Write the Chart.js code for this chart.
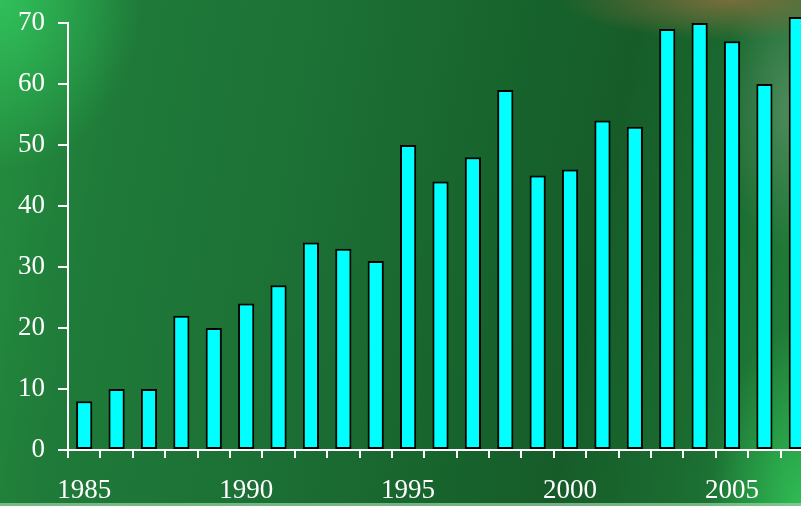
<!DOCTYPE html>
<html>
<head>
<meta charset="utf-8">
<script src="https://cdn.jsdelivr.net/npm/chart.js@4"></script>
<style>
  html, body { margin: 0; padding: 0; width: 801px; height: 506px; overflow: hidden; }
  body {
    position: relative;
    background:
      radial-gradient(ellipse 170px 40px at 730px 0px, rgba(130,110,60,0.9), rgba(130,110,60,0) 100%),
      radial-gradient(ellipse 70px 140px at 790px 110px, rgba(125,160,130,0.5), rgba(125,160,130,0) 100%),
      radial-gradient(ellipse 90px 180px at 801px 506px, rgba(48,190,85,0.95), rgba(48,190,85,0) 100%),
      radial-gradient(ellipse 140px 170px at 0px 0px, rgba(50,200,95,0.85), rgba(50,200,95,0) 100%),
      linear-gradient(100deg, #25903f 0%, #1f7b39 14%, #1c7035 38%, #17622c 62%, #165c29 72%, #1b6c31 86%, #22843b 100%);
  }
  #wrap { position: absolute; left: 0; top: 0; width: 820px; height: 506px; }
  #strip { position: absolute; left: 0; bottom: 0; width: 801px; height: 3px; background: rgba(150,205,160,0.75); }
</style>
</head>
<body>
<div id="wrap"><canvas id="c" width="820" height="506"></canvas></div>
<div id="strip"></div>
<script>
// Yearly counts, 1985–2007
const years = ['1985','1986','1987','1988','1989','1990','1991','1992','1993','1994','1995','1996',
               '1997','1998','1999','2000','2001','2002','2003','2004','2005','2006','2007'];
const counts = [8, 10, 10, 22, 20, 24, 27, 34, 33, 31, 50, 44, 48, 59, 45, 46, 54, 53, 69, 70, 67, 60, 71];
const labelledYears = ['1985', '1990', '1995', '2000', '2005'];
const yTicks = [0, 10, 20, 30, 40, 50, 60, 70];

const tickFont = { family: '"Liberation Serif", "Times New Roman", serif', size: 27 };

new Chart(document.getElementById('c'), {
  type: 'bar',
  data: {
    labels: years,
    datasets: [{
      data: counts,
      backgroundColor: '#00ffff',
      borderColor: '#000000',
      borderWidth: 2,
      borderSkipped: false,
      barPercentage: 0.5,
      categoryPercentage: 1,
      clip: false
    }]
  },
  options: {
    responsive: false,
    animation: false,
    layout: { padding: { top: 23, right: 7, left: 0, bottom: 0 } },
    plugins: { legend: { display: false }, tooltip: { enabled: false } },
    scales: {
      x: {
        type: 'category',
        offset: true,
        grid: { offset: true, drawOnChartArea: false, drawTicks: true, tickLength: 8, color: '#ffffff', lineWidth: 2 },
        border: { display: true, color: '#ffffff', width: 2 },
        ticks: {
          autoSkip: false,
          maxRotation: 0,
          minRotation: 0,
          padding: 17,
          color: '#ffffff',
          font: tickFont,
          callback: function (value) {
            const y = this.getLabelForValue(value);
            return labelledYears.includes(y) ? y : '';
          }
        },
        afterFit: (s) => { s.height = 56; s.paddingLeft = 0; s.paddingRight = 0; }
      },
      y: {
        min: yTicks[0],
        max: yTicks[yTicks.length - 1],
        afterBuildTicks: (s) => { s.ticks = yTicks.map(v => ({ value: v })); },
        grid: { drawOnChartArea: false, drawTicks: true, tickLength: 10, color: '#ffffff', lineWidth: 2 },
        border: { display: true, color: '#ffffff', width: 2 },
        ticks: { padding: 13, color: '#ffffff', font: tickFont },
        afterFit: (s) => { s.width = 68; s.paddingTop = 0; s.paddingBottom = 0; }
      }
    }
  }
});
</script>
</body>
</html>
